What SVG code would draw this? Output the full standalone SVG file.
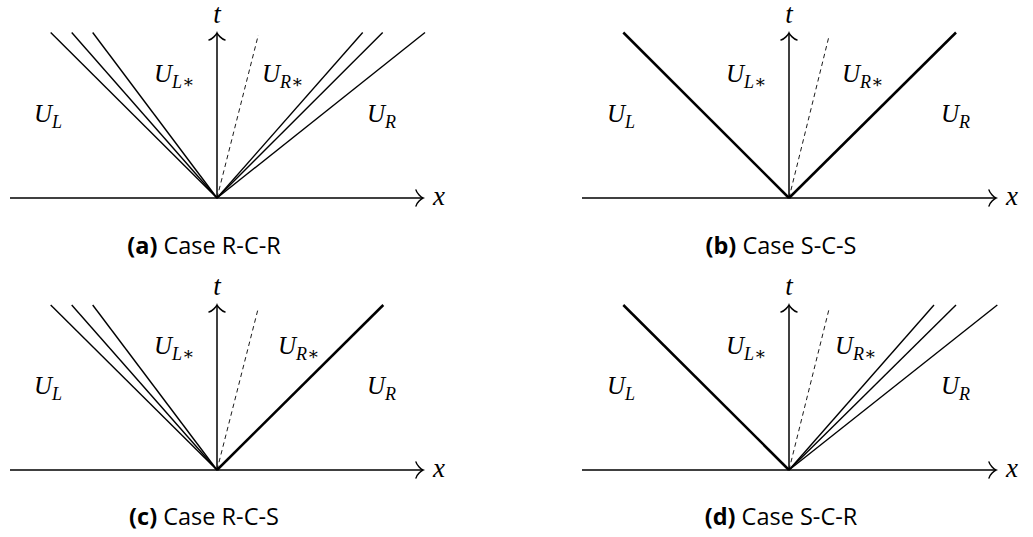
<svg xmlns="http://www.w3.org/2000/svg" width="1033" height="537" viewBox="0 0 1033 537">
<style>
.ax{stroke:#000;stroke-width:1.5;fill:none}
.ah{stroke:#000;stroke-width:1.5;fill:none;stroke-linecap:round}
.rf{stroke:#000;stroke-width:1.4;fill:none}
.sh{stroke:#000;stroke-width:2.5;fill:none}
.cd{stroke:#000;stroke-width:0.9;fill:none;stroke-dasharray:4.5,3.5}
.m{font-family:"Liberation Serif","DejaVu Serif",serif;font-style:italic;font-size:25px;fill:#000}
.tx{font-size:27px}
.s{font-size:18px}
.cap{font-family:"Open Sans","DejaVu Sans",sans-serif;font-size:23.5px;fill:#000;text-anchor:middle}
.b{font-weight:bold}
</style>
<defs>
<path id="arR" d="M-7,-8 C-6.5,-5 -1.5,-0.6 0,0 C-1.5,0.6 -6.5,5 -7,8"/>
<path id="arU" d="M-8,7 C-5,6.5 -0.6,1.5 0,0 C0.6,1.5 5,6.5 8,7"/>
</defs>

<g id="panel-a">
<g id="axes-a">
<line class="ax" x1="10" y1="198" x2="422" y2="198"/>
<use href="#arR" class="ah" x="423" y="198"/>
<line class="ax" x1="217" y1="198" x2="217" y2="34"/>
<use href="#arU" class="ah" x="217" y="33"/>
<text class="m tx" x="217" y="23" text-anchor="middle">t</text>
<text class="m tx" x="433" y="205">x</text>
</g>
<g id="waves-a">
<line class="rf" x1="217" y1="198" x2="50.7" y2="32.5"/>
<line class="rf" x1="217" y1="198" x2="71.7" y2="32.5"/>
<line class="rf" x1="217" y1="198" x2="92.7" y2="32.5"/>
<line class="cd" x1="217" y1="198" x2="258.3" y2="35"/>
<line class="rf" x1="217" y1="198" x2="362.7" y2="32.5"/>
<line class="rf" x1="217" y1="198" x2="382.7" y2="32.5"/>
<line class="rf" x1="217" y1="198" x2="425" y2="32.5"/>
</g>
<g id="labels-a">
<text class="m" x="34" y="122">U<tspan class="s" dy="6">L</tspan></text>
<text class="m" x="154" y="82">U<tspan class="s" dy="6">L∗</tspan></text>
<text class="m" x="262" y="82">U<tspan class="s" dy="6">R∗</tspan></text>
<text class="m" x="367" y="122">U<tspan class="s" dy="6">R</tspan></text>
</g>
<text class="cap" x="204" y="254"><tspan class="b">(a)</tspan> Case R-C-R</text>
</g>

<g id="panel-b">
<g id="axes-b">
<line class="ax" x1="582" y1="198" x2="995" y2="198"/>
<use href="#arR" class="ah" x="996" y="198"/>
<line class="ax" x1="789" y1="198" x2="789" y2="34"/>
<use href="#arU" class="ah" x="789" y="33"/>
<text class="m tx" x="789" y="23" text-anchor="middle">t</text>
<text class="m tx" x="1006" y="205">x</text>
</g>
<g id="waves-b">
<line class="sh" x1="789" y1="198" x2="623.3" y2="32.5"/>
<line class="cd" x1="789" y1="198" x2="829.3" y2="35"/>
<line class="sh" x1="789" y1="198" x2="956" y2="32.5"/>
</g>
<g id="labels-b">
<text class="m" x="607" y="122">U<tspan class="s" dy="6">L</tspan></text>
<text class="m" x="726" y="82">U<tspan class="s" dy="6">L∗</tspan></text>
<text class="m" x="842" y="82">U<tspan class="s" dy="6">R∗</tspan></text>
<text class="m" x="941" y="122">U<tspan class="s" dy="6">R</tspan></text>
</g>
<text class="cap" x="781" y="254"><tspan class="b">(b)</tspan> Case S-C-S</text>
</g>

<g id="panel-c">
<g id="axes-c">
<line class="ax" x1="10" y1="470" x2="422" y2="470"/>
<use href="#arR" class="ah" x="423" y="470"/>
<line class="ax" x1="217" y1="470" x2="217" y2="306"/>
<use href="#arU" class="ah" x="217" y="305"/>
<text class="m tx" x="217" y="295" text-anchor="middle">t</text>
<text class="m tx" x="433" y="477">x</text>
</g>
<g id="waves-c">
<line class="rf" x1="217" y1="470" x2="50.7" y2="305"/>
<line class="rf" x1="217" y1="470" x2="71.7" y2="305"/>
<line class="rf" x1="217" y1="470" x2="92.7" y2="305"/>
<line class="cd" x1="217" y1="470" x2="258.3" y2="308"/>
<line class="sh" x1="217" y1="470" x2="383.3" y2="305"/>
</g>
<g id="labels-c">
<text class="m" x="34" y="394">U<tspan class="s" dy="6">L</tspan></text>
<text class="m" x="154" y="354">U<tspan class="s" dy="6">L∗</tspan></text>
<text class="m" x="278" y="354">U<tspan class="s" dy="6">R∗</tspan></text>
<text class="m" x="367" y="394">U<tspan class="s" dy="6">R</tspan></text>
</g>
<text class="cap" x="204" y="525"><tspan class="b">(c)</tspan> Case R-C-S</text>
</g>

<g id="panel-d">
<g id="axes-d">
<line class="ax" x1="582" y1="470" x2="995" y2="470"/>
<use href="#arR" class="ah" x="996" y="470"/>
<line class="ax" x1="789" y1="470" x2="789" y2="306"/>
<use href="#arU" class="ah" x="789" y="305"/>
<text class="m tx" x="789" y="295" text-anchor="middle">t</text>
<text class="m tx" x="1006" y="477">x</text>
</g>
<g id="waves-d">
<line class="sh" x1="789" y1="470" x2="623.3" y2="305"/>
<line class="cd" x1="789" y1="470" x2="829.3" y2="308"/>
<line class="rf" x1="789" y1="470" x2="934" y2="305"/>
<line class="rf" x1="789" y1="470" x2="956" y2="305"/>
<line class="rf" x1="789" y1="470" x2="997.3" y2="305"/>
</g>
<g id="labels-d">
<text class="m" x="607" y="394">U<tspan class="s" dy="6">L</tspan></text>
<text class="m" x="726" y="354">U<tspan class="s" dy="6">L∗</tspan></text>
<text class="m" x="835" y="354">U<tspan class="s" dy="6">R∗</tspan></text>
<text class="m" x="941" y="394">U<tspan class="s" dy="6">R</tspan></text>
</g>
<text class="cap" x="781" y="525"><tspan class="b">(d)</tspan> Case S-C-R</text>
</g>
</svg>
